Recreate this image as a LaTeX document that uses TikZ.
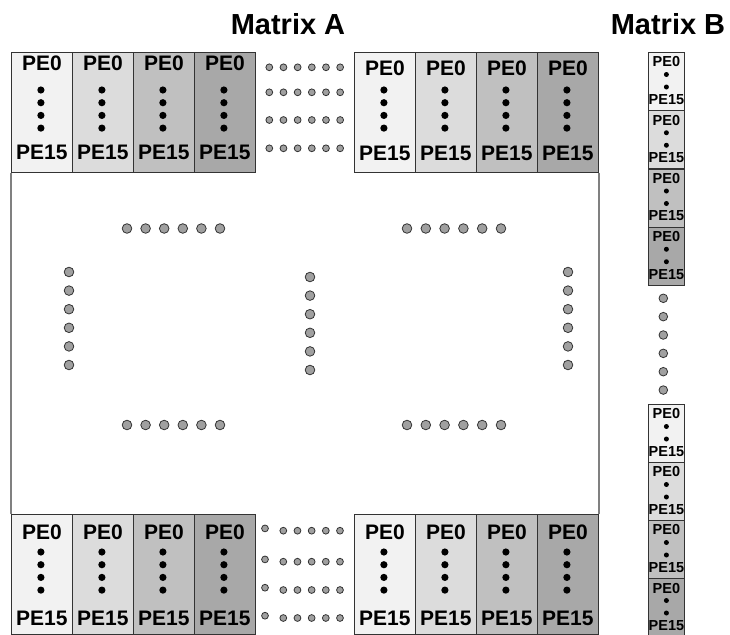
\documentclass[tikz,border=0pt]{standalone}
\usepackage{fontspec}
\setmainfont{Liberation Sans}
\usepackage{xcolor}
\usepackage{tikz}
\usetikzlibrary{positioning}

\definecolor{shadeA}{HTML}{F2F2F2}
\definecolor{shadeB}{HTML}{DCDCDC}
\definecolor{shadeC}{HTML}{C0C0C0}
\definecolor{shadeD}{HTML}{A8A8A8}
\definecolor{dotgray}{HTML}{A0A0A0}
\definecolor{framegray}{HTML}{808080}

\begin{document}
\begin{tikzpicture}[x=1pt, y=-1pt,
    peblock/.style={draw=black!80, line width=0.8pt, minimum width=61pt, minimum height=120pt, anchor=north west, inner sep=0pt},
    pesmall/.style={draw=black!80, line width=0.8pt, minimum width=36pt, minimum height=58pt, anchor=north west, inner sep=0pt},
    pelabel/.style={font=\fontsize{21}{25}\selectfont\bfseries, inner sep=0pt},
    pesmalllabel/.style={font=\fontsize{14.5}{17}\selectfont\bfseries, inner sep=0pt},
    title/.style={font=\fontsize{29}{34}\selectfont\bfseries, inner sep=0pt},
    graydot/.style={fill=dotgray, draw=black!80, line width=0.8pt},
    frameline/.style={draw=framegray, line width=2pt}]
      \clip (0,0) rectangle (730,634);

      % Titles
      \node[title] (titleA) at (288, 24) {Matrix A};
      \node[title] (titleB) at (668, 24) {Matrix B};

      % Matrix A, blocks in the four corners
      \foreach \i/\c in {0/shadeA, 1/shadeB, 2/shadeC, 3/shadeD} {
        \node[peblock, fill=\c] (tl\i) at (11+61*\i, 52) {};
        \node[peblock, fill=\c] (tr\i) at (354+61*\i, 52) {};
        \node[peblock, fill=\c] (bl\i) at (11+61*\i, 514) {};
        \node[peblock, fill=\c] (br\i) at (354+61*\i, 514) {};
      }
      \foreach \g/\a/\b in {tl/11.5/100.5, tr/16/101, bl/18/104, br/18/104} {
        \foreach \i in {0,...,3} {
          \path (\g\i.north) ++(0,\a) node[pelabel] (\g\i-first) {PE0};
          \path (\g\i.north) ++(0,\b) node[pelabel] (\g\i-last) {PE15};
          \fill (\g\i.north) ++(-1,38) circle (3.6pt) ++(0,12.7) circle (3.6pt)
            ++(0,12.7) circle (3.6pt) ++(0,12.7) circle (3.6pt);
        }
      }

      % Side edges of Matrix A
      \draw[frameline] (tl0.south west) -- (bl0.north west);
      \draw[frameline] (tr3.south east) -- (br3.north east);

      % Dots between the corner blocks
      \foreach \r in {67.3, 92.3, 120, 148.3}
        \foreach \k in {0,...,5}
          \filldraw[graydot] (269.3+14.17*\k, \r) circle (3.4pt);
      \foreach \r in {530.7, 561.7, 590, 618} {
        \filldraw[graydot] (265, \r-2.3) circle (3.4pt);
        \foreach \k in {0,...,4}
          \filldraw[graydot] (283.3+14.17*\k, \r) circle (3.4pt);
      }

      % Dots inside Matrix A
      \foreach \k in {0,...,5} {
        \filldraw[graydot] (127+18.6*\k, 228.5) circle (4.8pt);
        \filldraw[graydot] (127+18.6*\k, 425) circle (4.8pt);
        \filldraw[graydot] (407+18.8*\k, 228.5) circle (4.8pt);
        \filldraw[graydot] (407+18.8*\k, 425) circle (4.8pt);
        \filldraw[graydot] (69, 272+18.6*\k) circle (4.8pt);
        \filldraw[graydot] (310, 277+18.6*\k) circle (4.8pt);
        \filldraw[graydot] (568, 272+18.6*\k) circle (4.8pt);
      }

      % Matrix B
      \foreach \i/\c in {0/shadeA, 1/shadeB, 2/shadeC, 3/shadeD} {
        \node[pesmall, fill=\c] (bu\i) at (648, 52+58.25*\i) {};
        \node[pesmall, fill=\c] (bd\i) at (648, 404+58*\i) {};
      }
      \foreach \g in {bu, bd} {
        \foreach \i in {0,...,3} {
          \path (\g\i.north) ++(0,10) node[pesmalllabel] (\g\i-first) {PE0};
          \path (\g\i.north) ++(0,47.5) node[pesmalllabel] (\g\i-last) {PE15};
          \fill (\g\i.north) ++(0,22.5) circle (2.5pt) ++(0,12.5) circle (2.5pt);
        }
      }
      \foreach \k in {0,...,5}
        \filldraw[graydot] (663.3, 298.3+18.35*\k) circle (4.3pt);
    \end{tikzpicture}
\end{document}
